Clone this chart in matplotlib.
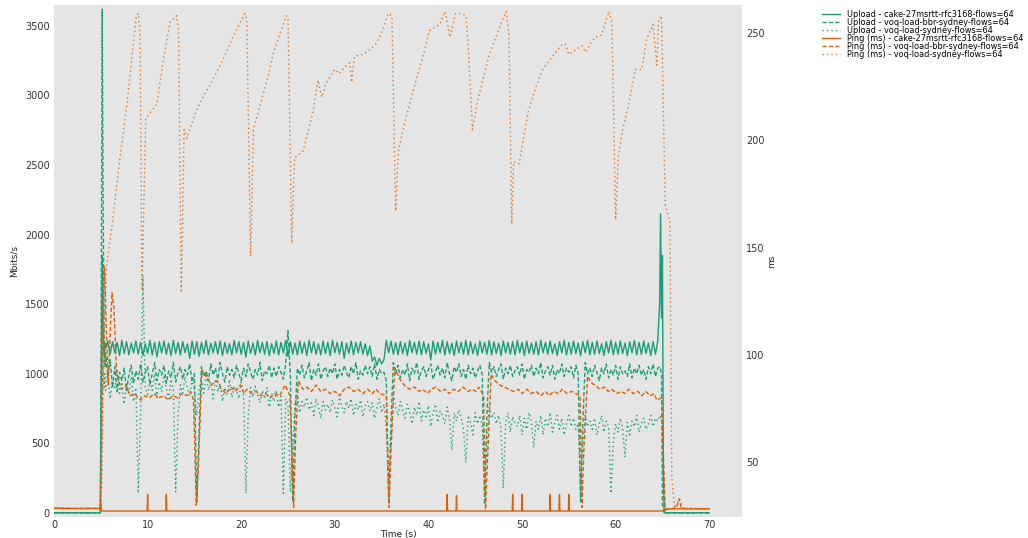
import numpy as np
import matplotlib
matplotlib.use('Agg')
import matplotlib.pyplot as plt

# ── Colours ─────────────────────────────────────────────────────────────
GREEN = '#1b9e77'
ORANGE = '#d95f02'

# ── Upload traces (Mbits/s), sampled every STEP seconds from UP_START ───
STEP = 0.25
UP_START = 5.5

CAKE_UP_HEAD_T = [0, 4.95, 5.05, 5.15, 5.25, 5.35, 5.45]
CAKE_UP_HEAD = [0, 0, 900, 1850, 1300, 1150, 1220]
CAKE_UP = [
    1180, 1235, 1140, 1230, 1150, 1225, 1130, 1240,
    1145, 1230, 1135, 1220, 1150, 1235, 1140, 1225,
    1130, 1215, 1145, 1240, 1135, 1225, 1120, 1230,
    1150, 1235, 1140, 1220, 1130, 1240, 1145, 1225,
    1135, 1230, 1150, 1215, 1110, 1235, 1140, 1230,
    1125, 1225, 1145, 1240, 1135, 1220, 1150, 1230,
    1140, 1235, 1130, 1225, 1145, 1215, 1135, 1240,
    1150, 1230, 1140, 1225, 1120, 1235, 1145, 1220,
    1135, 1240, 1150, 1225, 1140, 1230, 1130, 1215,
    1145, 1235, 1135, 1225, 1150, 1240, 1125, 1230,
    1140, 1220, 1135, 1235, 1145, 1225, 1130, 1240,
    1150, 1230, 1140, 1215, 1135, 1235, 1145, 1225,
    1130, 1240, 1150, 1225, 1140, 1230, 1110, 1220,
    1145, 1235, 1135, 1225, 1150, 1230, 1140, 1215,
    1130, 1200, 1090, 1120, 1060, 1110, 1070, 1100,
    1240, 1150, 1235, 1140, 1225, 1135, 1230, 1145,
    1220, 1130, 1240, 1150, 1225, 1140, 1235, 1135,
    1230, 1145, 1215, 1100, 1235, 1140, 1225, 1150,
    1240, 1135, 1230, 1145, 1220, 1130, 1235, 1150,
    1225, 1140, 1240, 1135, 1230, 1145, 1215, 1130,
    1235, 1150, 1225, 1140, 1240, 1135, 1230, 1145,
    1220, 1130, 1235, 1150, 1225, 1140, 1230, 1135,
    1240, 1150, 1225, 1130, 1235, 1145, 1220, 1140,
    1230, 1135, 1240, 1150, 1225, 1140, 1235, 1145,
    1215, 1130, 1230, 1150, 1240, 1135, 1225, 1140,
    1235, 1145, 1220, 1130, 1230, 1150, 1240, 1135,
    1225, 1140, 1235, 1145, 1215, 1130, 1230, 1150,
    1240, 1135, 1225, 1140, 1235, 1145, 1220, 1130,
    1230, 1150, 1240, 1135, 1225, 1140, 1235, 1145,
    1220, 1130, 1230, 1140, 1235,
]
CAKE_UP_TAIL_T = [64.7, 64.8, 64.9, 65.0, 65.1, 65.2, 70]
CAKE_UP_TAIL = [1500, 2150, 1400, 1850, 300, 0, 0]

BBR_UP_HEAD_T = [0, 4.95, 5.05, 5.15, 5.25, 5.35, 5.45]
BBR_UP_HEAD = [0, 0, 1500, 3620, 2200, 1300, 1050]
BBR_UP = [
    1150, 980, 1100, 900, 1050, 870, 1010, 950,
    1040, 880, 990, 1060, 930, 1020, 960, 1070,
    940, 1010, 1050, 920, 1000, 1080, 950, 1030,
    990, 1060, 930, 1020, 970, 1080, 940, 1010,
    1050, 960, 1030, 990, 1070, 940, 1000, 80,
    600, 1050, 980, 1020, 950, 1070, 990, 1040,
    960, 1080, 1000, 940, 1050, 990, 1030, 970,
    1060, 1000, 950, 1040, 980, 1070, 1010, 960,
    1030, 990, 1080, 950, 1020, 1000, 1060, 970,
    1040, 980, 1050, 1010, 960, 1070, 1310, 990,
    80, 700, 1040, 990, 1060, 970, 1020, 1080,
    950, 1030, 990, 1070, 960, 1020, 1050, 980,
    1040, 1000, 1070, 960, 1030, 990, 1060, 1010,
    970, 1050, 1000, 1080, 960, 1020, 990, 1060,
    1000, 1050, 980, 1070, 960, 1030, 1000, 1010,
    950, 80, 650, 1080, 1000, 1060, 970, 1030,
    990, 1070, 950, 1040, 1000, 1080, 960, 1020,
    1050, 980, 1030, 1070, 960, 1010, 1060, 990,
    1040, 970, 1080, 1000, 950, 1050, 1010, 1070,
    980, 1030, 960, 1060, 1000, 1040, 970, 1020,
    1060, 990, 60, 700, 1080, 1010, 1050, 980,
    1030, 1070, 960, 1040, 1000, 1060, 980, 1020,
    1050, 990, 1070, 960, 1030, 1010, 1060, 980,
    1040, 1000, 1080, 970, 1020, 1050, 990, 1060,
    960, 1030, 1000, 1070, 980, 1040, 1010, 1050,
    970, 1060, 1000, 80, 650, 1080, 1000, 1040,
    980, 1060, 1010, 950, 1040, 1000, 1070, 970,
    1030, 990, 1060, 960, 1050, 1000, 1020, 980,
    1070, 970, 1040, 1000, 1060, 990, 1030, 960,
    1050, 1000, 1070, 980, 1040,
]
BBR_UP_TAIL_T = [64.75, 64.9, 65.0, 65.2, 70]
BBR_UP_TAIL = [1050, 1000, 60, 0, 0]

VOQ_UP_HEAD_T = [0, 4.95, 5.05, 5.15, 5.25, 5.35, 5.45]
VOQ_UP_HEAD = [0, 0, 600, 1500, 1100, 900, 1000]
VOQ_UP = [
    880, 1000, 820, 950, 900, 1020, 860, 940,
    780, 920, 860, 980, 800, 900, 140, 700,
    1700, 900, 850, 960, 880, 1000, 830, 940,
    870, 990, 900, 820, 960, 880, 150, 700,
    920, 860, 980, 900, 840, 960, 880, 700,
    900, 950, 860, 1000, 880, 940, 820, 960,
    870, 930, 800, 900, 850, 960, 830, 910,
    880, 820, 940, 860, 140, 700, 900, 830,
    910, 850, 790, 880, 820, 900, 760, 860,
    800, 870, 760, 840, 140, 820, 780, 150,
    500, 780, 850, 720, 800, 760, 830, 740,
    790, 700, 820, 760, 680, 800, 740, 780,
    720, 810, 760, 690, 830, 770, 720, 800,
    750, 820, 700, 780, 740, 810, 690, 770,
    800, 730, 790, 680, 760, 820, 720, 780,
    600, 150, 500, 850, 760, 700, 800, 740,
    680, 780, 720, 640, 760, 700, 800, 660,
    740, 690, 770, 620, 720, 780, 650, 730,
    700, 640, 760, 680, 450, 720, 660, 740,
    680, 600, 360, 700, 650, 560, 720, 640,
    700, 620, 150, 500, 760, 680, 720, 640,
    700, 600, 177, 650, 720, 580, 690, 640,
    620, 700, 560, 680, 600, 720, 650, 470,
    660, 600, 700, 560, 680, 620, 720, 580,
    650, 700, 600, 680, 560, 640, 700, 620,
    680, 600, 640, 150, 500, 700, 620, 660,
    600, 680, 560, 640, 700, 580, 660, 620,
    140, 500, 640, 580, 680, 600, 400, 650,
    560, 660, 620, 700, 580, 640, 680, 600,
    640, 700, 620, 680, 660,
]
VOQ_UP_TAIL_T = [64.75, 65.0, 65.15, 70]
VOQ_UP_TAIL = [700, 650, 0, 0]

# ── Ping traces (ms) ────────────────────────────────────────────────────
CAKE_PING_T = [0, 2.5, 4.9, 5.0, 5.05, 5.1,
               9.95, 10.0, 10.05, 11.95, 12.0, 12.05,
               41.95, 42.0, 42.05, 42.95, 43.0, 43.05,
               48.95, 49.0, 49.05, 49.95, 50.0, 50.05,
               52.95, 53.0, 53.05, 53.95, 54.0, 54.05,
               54.95, 55.0, 55.05, 65.3, 65.4, 70]
CAKE_PING = [28.6, 28.4, 28.5, 30.5, 27.3, 27.3,
             27.3, 35, 27.3, 27.3, 35, 27.3,
             27.3, 35, 27.3, 27.3, 34.5, 27.3,
             27.3, 35, 27.3, 27.3, 35, 27.3,
             27.3, 35, 27.3, 27.3, 35, 27.3,
             27.3, 35, 27.3, 27.3, 28.3, 28.3]

BBR_PING_T = [0, 4.95, 5.1, 5.25, 5.4, 5.6, 5.8, 6.0, 6.2, 6.4, 6.7, 7.2,
              7.7, 8.1, 8.6, 9.2, 9.7, 10.2, 10.7, 11.2, 11.7, 12.2, 12.7,
              13.2, 13.7, 14.2, 14.6, 14.9, 15.2, 15.4, 15.8, 16.3, 16.8,
              17.4, 17.9, 18.4, 18.9, 19.4, 19.9, 20.3, 20.6, 21.1, 21.6,
              22.1, 22.6, 23.1, 23.6, 24.1, 24.7, 25.2, 25.6, 25.8, 26.1,
              26.6, 27.0, 27.5, 28.0, 28.5, 29.0, 29.5, 30.0, 30.5, 31.0,
              31.5, 32.0, 32.5, 33.0, 33.5, 34.0, 34.4, 34.8, 35.5, 35.8,
              36.0, 36.4, 36.9, 37.4, 38.0, 38.5, 39.0, 39.4, 39.9, 40.3,
              40.8, 41.3, 41.8, 42.2, 42.7, 43.2, 43.7, 44.2, 44.7, 45.1,
              45.4, 45.9, 46.1, 46.3, 46.7, 47.1, 47.6, 48.1, 48.6, 49.1,
              49.6, 50.0, 50.5, 51.0, 51.5, 52.0, 52.5, 52.9, 53.4, 53.9,
              54.3, 54.8, 55.3, 55.7, 56.2, 56.4, 56.6, 57.0, 57.4, 57.8,
              58.3, 58.8, 59.2, 59.6, 60.1, 60.6, 61.0, 61.4, 61.9, 62.4,
              62.8, 63.2, 63.7, 64.1, 64.4, 64.9, 65.3, 66.0, 66.5, 66.8,
              67.0, 70]
BBR_PING = [28.5, 28.5, 60, 125, 141, 110, 86, 110, 129, 122, 91, 84,
            86, 81, 82, 79, 81, 80, 82, 80, 81, 79, 81,
            80, 82, 81, 83, 79, 30, 45, 93, 90, 86,
            88, 84, 82, 85, 83, 86, 82, 84, 82, 83,
            81, 82, 80, 82, 81, 86, 81, 29, 60, 88,
            84, 85, 83, 86, 83, 84, 82, 83, 81, 84,
            85, 83, 84, 82, 84, 82, 84, 82, 81, 29,
            55, 94, 89, 86, 84, 85, 83, 84, 82, 84,
            85, 83, 84, 82, 84, 83, 85, 83, 84, 83,
            85, 81, 28, 50, 91, 88, 86, 85, 84, 83,
            84, 82, 84, 82, 83, 81, 83, 81, 83, 82,
            84, 82, 83, 82, 81, 29, 55, 90, 87, 86,
            84, 85, 83, 84, 82, 83, 82, 84, 82, 83,
            81, 83, 81, 82, 79, 80, 28, 28.3, 29, 33,
            28.5, 28.3]

VOQ_PING_T = [0, 4.95, 5.1, 5.3, 5.6, 6.2, 7.0, 7.8, 8.4, 8.8, 9.0, 9.2,
              9.4, 9.8, 10.3, 11.0, 11.7, 12.4, 13.1, 13.3, 13.6, 13.9,
              14.2, 14.6, 15.2, 15.9, 16.7, 17.3, 17.9, 18.5, 19.1, 19.8,
              20.4, 20.6, 21.0, 21.3, 21.8, 22.3, 22.9, 23.4, 24.1, 24.8,
              25.0, 25.4, 25.7, 26.1, 26.6, 27.2, 27.7, 28.2, 28.6, 29.1,
              30.0, 30.5, 31.0, 31.6, 31.8, 32.1, 33.0, 33.7, 34.4, 35.0,
              35.7, 36.1, 36.5, 36.8, 37.4, 38.0, 38.5, 39.0, 39.6, 40.1,
              41.2, 41.8, 42.3, 42.9, 43.5, 44.0, 44.3, 44.7, 45.2, 45.8,
              46.5, 47.2, 47.8, 48.3, 48.6, 48.9, 49.1, 49.7, 50.2, 50.7,
              51.5, 52.2, 52.9, 53.6, 54.1, 54.6, 55.0, 55.7, 56.4, 56.8,
              57.3, 57.8, 58.5, 58.9, 59.3, 59.6, 60.0, 60.3, 60.8, 61.4,
              62.1, 62.8, 63.3, 64.0, 64.4, 64.6, 64.9, 65.3, 65.8, 66.0,
              66.3, 66.8, 67.2, 70]
VOQ_PING = [28.5, 28.5, 40, 100, 141, 160, 190, 217, 242, 258, 259, 250,
            130, 210, 213, 217, 238, 255, 258, 252, 129, 205,
            201, 206, 214, 220, 226, 231, 236, 242, 248, 254,
            259, 256, 146, 205, 213, 221, 230, 240, 249, 258,
            257, 152, 192, 193, 195, 205, 214, 228, 220, 227,
            233, 231, 234, 236, 227, 239, 240, 242, 245, 250,
            259, 258, 167, 195, 207, 217, 225, 233, 242, 251,
            254, 260, 248, 259, 259, 258, 240, 205, 217, 228,
            240, 248, 255, 260, 250, 161, 190, 189, 202, 214,
            225, 233, 237, 241, 244, 245, 240, 242, 244, 241,
            245, 248, 249, 255, 260, 255, 163, 193, 206, 217,
            233, 233, 247, 254, 235, 256, 258, 170, 162, 43,
            28.6, 33, 28.5, 28.3]

LABELS = [
    'Upload - cake-27msrtt-rfc3168-flows=64',
    'Upload - voq-load-bbr-sydney-flows=64',
    'Upload - voq-load-sydney-flows=64',
    'Ping (ms) - cake-27msrtt-rfc3168-flows=64',
    'Ping (ms) - voq-load-bbr-sydney-flows=64',
    'Ping (ms) - voq-load-sydney-flows=64',
]

STYLES = ['-', (0, (3.0, 1.6)), (0, (1.0, 2.2))]


def upload_series(head_t, head, body, tail_t, tail):
    body_t = UP_START + STEP * np.arange(len(body))
    t = np.concatenate([head_t, body_t, tail_t])
    v = np.concatenate([head, body, tail])
    return t, v


# ── Plot ────────────────────────────────────────────────────────────────
fig = plt.figure(figsize=(10.28, 5.38), dpi=100)
fig.patch.set_facecolor('white')
ax = fig.add_axes([54 / 1028, 1 - 517 / 538, (742 - 54) / 1028, (517 - 5) / 538])
ax.set_facecolor('#e5e5e5')
ax2 = ax.twinx()

lines = []
up_sets = [
    (CAKE_UP_HEAD_T, CAKE_UP_HEAD, CAKE_UP, CAKE_UP_TAIL_T, CAKE_UP_TAIL),
    (BBR_UP_HEAD_T, BBR_UP_HEAD, BBR_UP, BBR_UP_TAIL_T, BBR_UP_TAIL),
    (VOQ_UP_HEAD_T, VOQ_UP_HEAD, VOQ_UP, VOQ_UP_TAIL_T, VOQ_UP_TAIL),
]
for i, (ht, h, b, tt, tl) in enumerate(up_sets):
    t, v = upload_series(ht, h, b, tt, tl)
    ln, = ax.plot(t, v, color=GREEN, lw=1.0, ls=STYLES[i], label=LABELS[i])
    lines.append(ln)

ping_sets = [
    (CAKE_PING_T, CAKE_PING),
    (BBR_PING_T, BBR_PING),
    (VOQ_PING_T, VOQ_PING),
]
for i, (t, v) in enumerate(ping_sets):
    ln, = ax2.plot(t, v, color=ORANGE, lw=1.0, ls=STYLES[i], label=LABELS[3 + i],
                   alpha=0.85 if i == 2 else 1.0)
    lines.append(ln)

ax.set_xlim(0, 73.5)
ax.set_ylim(-30, 3650)
ax2.set_ylim(24.5, 263)
ax.set_xticks(range(0, 71, 10))
ax.set_yticks(range(0, 3501, 500))
ax2.set_yticks(range(50, 251, 50))

for a in (ax, ax2):
    for s in a.spines.values():
        s.set_visible(False)
    a.tick_params(axis='both', length=0, pad=3, labelsize=7, labelcolor='#333333')
ax.tick_params(axis='x', pad=2)

ax.set_xlabel('Time (s)', fontsize=6.5, labelpad=0, color='#222222')
ax.set_ylabel('Mbits/s', fontsize=6.5, labelpad=5, color='#222222')
ax2.set_ylabel('ms', fontsize=6.5, labelpad=2, color='#222222')

fig.legend(handles=lines, loc='upper left', bbox_to_anchor=(819 / 1028, 1 - 7 / 538),
           frameon=False, fontsize=5.9, handlelength=2.2, handletextpad=0.8,
           labelspacing=-0.12, borderpad=0.4, borderaxespad=0)

fig.savefig('out.png', dpi=100, facecolor='white')
